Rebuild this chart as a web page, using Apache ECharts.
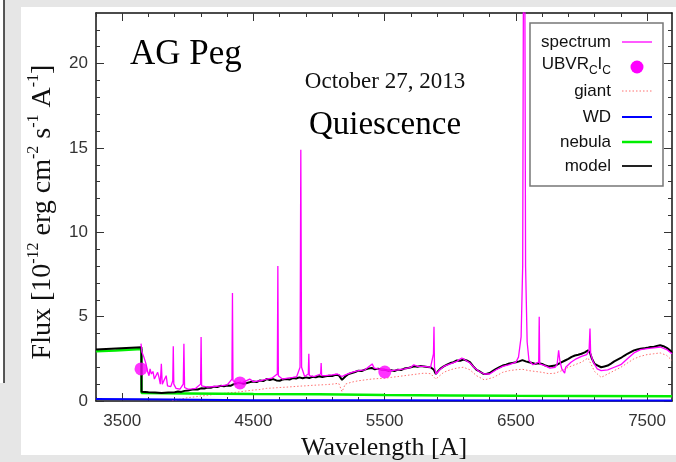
<!DOCTYPE html>
<html><head><meta charset="utf-8">
<script src="https://cdn.jsdelivr.net/npm/echarts@6/dist/echarts.min.js"></script>
<style>html,body{margin:0;padding:0;background:#e6e6e6}#c{width:676px;height:462px}</style>
</head><body><div id="c"></div>
<script>
// ---- data ----
const xMajorTicks = [3500, 4500, 5500, 6500, 7500];
const xMinorTicks = [3300,3700,3900,4100,4300,4700,4900,5100,5300,5700,5900,6100,6300,6700,6900,7100,7300,7700];
const yMajorTicks = [0, 5, 10, 15, 20];
const yMinorTicks = [1,2,3,4,6,7,8,9,11,12,13,14,16,17,18,19,21,22];
const legendNames = ['spectrum', 'UBVRcIc', 'giant', 'WD', 'nebula', 'model'];

const spectrum = [[3643,3.4],[3650,2.9],[3665,2.6],[3681,2.2],[3695,1.7],[3704,1.5],[3712,1.9],[3722,1.6],[3734,1.75],[3745,1.3],[3757,1.2],[3770,1.7],[3780,1.4],[3790,1.0],[3798,2.2],[3805,1.0],[3820,1.1],[3835,1.5],[3845,0.9],[3870,0.85],[3885,1.2],[3889,3.25],[3893,1.0],[3910,0.75],[3940,0.7],[3965,1.0],[3970,3.4],[3975,0.8],[4000,0.7],[4030,0.72],[4060,0.75],[4097,1.0],[4101,3.8],[4105,0.9],[4150,0.82],[4200,0.86],[4250,0.9],[4300,0.95],[4336,1.3],[4340,6.4],[4344,1.2],[4380,1.05],[4420,1.1],[4471,1.3],[4500,1.15],[4550,1.2],[4600,1.3],[4640,1.35],[4682,1.6],[4686,8.0],[4690,1.5],[4720,1.3],[4760,1.35],[4800,1.4],[4830,1.45],[4855,2.0],[4861,14.9],[4867,2.0],[4890,1.45],[4918,1.6],[4922,2.8],[4926,1.5],[4960,1.45],[5012,1.6],[5016,2.25],[5020,1.5],[5050,1.5],[5100,1.55],[5140,1.6],[5175,1.45],[5200,1.55],[5250,1.7],[5300,1.8],[5350,1.85],[5405,2.2],[5420,1.95],[5450,1.9],[5500,1.85],[5550,1.8],[5600,1.85],[5650,1.9],[5700,2.0],[5722,2.15],[5750,2.05],[5800,2.05],[5850,2.0],[5872,2.8],[5876,4.4],[5880,2.0],[5892,1.6],[5920,1.85],[5950,2.05],[6000,2.2],[6050,2.35],[6088,2.55],[6120,2.4],[6150,2.25],[6180,2.0],[6220,1.75],[6260,1.6],[6300,1.6],[6350,1.85],[6400,2.05],[6450,2.15],[6500,2.3],[6520,2.6],[6540,3.8],[6552,8],[6558,26],[6563,45],[6568,26],[6574,8],[6586,3.5],[6600,2.4],[6630,2.15],[6674,2.3],[6678,5.0],[6682,2.2],[6720,2.1],[6760,1.95],[6800,2.0],[6815,2.2],[6826,3.0],[6835,2.4],[6850,1.9],[6872,1.65],[6880,2.0],[6920,2.3],[6960,2.5],[7000,2.65],[7040,2.75],[7058,3.0],[7065,4.3],[7070,2.8],[7090,2.3],[7120,1.9],[7150,1.8],[7200,1.85],[7250,2.0],[7300,2.15],[7350,2.5],[7400,2.85],[7450,3.05],[7500,3.1],[7550,3.15],[7600,3.2],[7650,3.05],[7690,2.8]];

const photometry = [[3643,1.9],[4397,1.07],[5501,1.72]];

const giant = [[3880,0.02],[3950,0.12],[4000,0.2],[4050,0.24],[4100,0.3],[4150,0.33],[4200,0.4],[4250,0.42],[4300,0.48],[4350,0.5],[4400,0.55],[4450,0.6],[4500,0.65],[4550,0.68],[4600,0.75],[4650,0.77],[4700,0.8],[4750,0.82],[4800,0.85],[4850,0.88],[4900,0.9],[4950,0.93],[5000,0.95],[5050,0.97],[5100,1.0],[5150,1.05],[5175,0.55],[5200,1.0],[5250,1.12],[5300,1.2],[5350,1.25],[5400,1.3],[5450,1.33],[5500,1.35],[5550,1.4],[5600,1.45],[5650,1.5],[5700,1.55],[5750,1.6],[5800,1.65],[5850,1.62],[5890,1.3],[5950,1.7],[6000,1.85],[6050,1.95],[6100,2.0],[6150,1.85],[6200,1.5],[6260,1.25],[6330,1.4],[6400,1.7],[6450,1.8],[6500,1.85],[6550,1.88],[6600,1.8],[6650,1.75],[6700,1.7],[6750,1.62],[6800,1.65],[6850,1.8],[6900,2.0],[6950,2.15],[7000,2.3],[7050,2.55],[7100,1.75],[7150,1.4],[7200,1.6],[7250,1.8],[7300,2.0],[7350,2.25],[7400,2.5],[7450,2.65],[7500,2.75],[7550,2.8],[7600,2.85],[7650,2.7],[7690,2.4]];

const wd = [[3300,0.12],[3646,0.1],[3647,0.07],[4500,0.05],[5500,0.04],[6500,0.03],[7690,0.03]];

const nebula = [[3300,2.95],[3450,3.0],[3646,3.08],[3647,0.47],[4000,0.45],[4500,0.42],[5000,0.4],[5500,0.36],[6000,0.33],[6500,0.31],[7000,0.3],[7690,0.28]];

const model = [[3300,3.05],[3646,3.18],[3647,0.55],[3700,0.52],[3750,0.5],[3800,0.48],[3850,0.5],[3900,0.52],[3925,0.56],[3950,0.54],[3975,0.6],[4000,0.62],[4025,0.66],[4050,0.7],[4075,0.68],[4100,0.75],[4125,0.74],[4150,0.8],[4175,0.78],[4200,0.85],[4225,0.83],[4250,0.9],[4275,0.87],[4300,0.92],[4325,0.9],[4350,1.0],[4375,1.05],[4400,1.08],[4425,1.02],[4450,1.07],[4475,1.12],[4500,1.15],[4525,1.12],[4550,1.22],[4575,1.18],[4600,1.3],[4625,1.25],[4650,1.3],[4675,1.22],[4700,1.2],[4725,1.28],[4750,1.3],[4775,1.27],[4800,1.36],[4825,1.33],[4850,1.4],[4875,1.35],[4900,1.4],[4925,1.36],[4950,1.44],[4975,1.4],[5000,1.47],[5025,1.42],[5050,1.46],[5075,1.5],[5100,1.48],[5125,1.55],[5150,1.53],[5175,1.25],[5200,1.45],[5225,1.6],[5250,1.66],[5275,1.72],[5300,1.8],[5325,1.78],[5350,1.86],[5375,1.92],[5400,1.96],[5425,1.88],[5450,1.92],[5475,1.86],[5500,1.85],[5525,1.8],[5550,1.82],[5575,1.78],[5600,1.86],[5625,1.84],[5650,1.92],[5675,1.95],[5700,2.0],[5725,2.06],[5750,2.03],[5775,2.08],[5800,2.05],[5825,2.02],[5850,2.0],[5875,1.85],[5890,1.6],[5910,1.8],[5925,1.92],[5950,2.05],[5975,2.15],[6000,2.25],[6025,2.3],[6050,2.4],[6075,2.38],[6100,2.46],[6125,2.4],[6150,2.3],[6175,2.05],[6200,1.85],[6225,1.75],[6250,1.62],[6275,1.6],[6300,1.66],[6325,1.78],[6350,1.9],[6375,2.0],[6400,2.1],[6425,2.15],[6450,2.22],[6475,2.26],[6500,2.3],[6525,2.35],[6550,2.42],[6575,2.35],[6600,2.3],[6625,2.25],[6650,2.2],[6675,2.24],[6700,2.2],[6725,2.1],[6750,2.05],[6775,2.08],[6800,2.1],[6825,2.2],[6850,2.3],[6875,2.4],[6900,2.5],[6925,2.62],[6950,2.7],[6975,2.74],[7000,2.8],[7025,2.88],[7050,3.0],[7065,2.85],[7080,2.5],[7100,2.2],[7125,2.1],[7150,2.0],[7175,2.05],[7200,2.1],[7225,2.22],[7250,2.35],[7275,2.45],[7300,2.55],[7325,2.68],[7350,2.8],[7375,2.9],[7400,3.0],[7425,3.05],[7450,3.1],[7475,3.12],[7500,3.15],[7525,3.2],[7550,3.2],[7575,3.26],[7600,3.3],[7625,3.25],[7650,3.15],[7675,3.0],[7690,2.85]];

const chart = echarts.init(document.getElementById('c'));
const xmin = 3300, xmax = 7690, ymin = 0, ymax = 23;
const tickFont = {fontFamily: 'Liberation Sans', fontSize: 17, color: '#333', formatter: v => String(v)};
function xAx(pos, ticks, len, labels, line) {
  return {type: 'value', min: xmin, max: xmax, position: pos,
    axisLine: {show: line, onZero: false, lineStyle: {color: '#111', width: 1.5}},
    axisTick: {show: true, inside: true, length: len, customValues: ticks, lineStyle: {color: '#333', width: 1}},
    axisLabel: labels ? Object.assign({customValues: ticks, margin: 12}, tickFont) : {show: false},
    splitLine: {show: false}};
}
function yAx(pos, ticks, len, labels, line) {
  return {type: 'value', min: ymin, max: ymax, position: pos,
    axisLine: {show: line, onZero: false, lineStyle: {color: '#111', width: 1.5}},
    axisTick: {show: true, inside: true, length: len, customValues: ticks, lineStyle: {color: '#333', width: 1}},
    axisLabel: labels ? Object.assign({customValues: ticks, margin: 8}, tickFont) : {show: false},
    splitLine: {show: false}};
}
const xAxes = [xAx('bottom', xMajorTicks, 8, true, true), xAx('top', xMajorTicks, 8, false, true), xAx('bottom', xMinorTicks, 4, false, false), xAx('top', xMinorTicks, 4, false, false)];
xAxes[0].name = 'Wavelength [A]';
xAxes[0].nameLocation = 'middle';
xAxes[0].nameGap = 29;
xAxes[0].nameTextStyle = {fontFamily: 'Liberation Serif', fontSize: 26, color: '#111'};
const yAxes = [yAx('left', yMajorTicks, 8, true, true), yAx('right', yMajorTicks, 8, false, true), yAx('left', yMinorTicks, 4, false, false), yAx('right', yMinorTicks, 4, false, false)];
yAxes[0].name = 'Flux [10{s|-12} erg cm{s|-2} s{s|-1} A{s|-1}]';
yAxes[0].nameLocation = 'middle';
yAxes[0].nameRotate = 90;
yAxes[0].nameGap = 35;
yAxes[0].nameTextStyle = {fontFamily: 'Liberation Serif', fontSize: 28, color: '#111', lineHeight: 32, padding: [0, 10, 0, 0],
  rich: {s: {fontFamily: 'Liberation Serif', fontSize: 16, color: '#111', lineHeight: 15, verticalAlign: 'top'}}};

// legend drawn as graphic (icons on the right, text right-aligned)
const legRows = [42, 67, 91, 117, 142, 166];
const legFont = {fontFamily: 'Liberation Sans', fontSize: 17, fill: '#111'};
const legText = (t, x, y, size, align) => ({type: 'text', z: 21, x: x, y: y,
  style: Object.assign({}, legFont, {text: t, fontSize: size, align: align, verticalAlign: 'middle'})});
const uX = 611 - (47.2 + 8.7 + 4.7 + 8.7);
const legendGraphic = [
  {type: 'rect', z: 20, shape: {x: 530, y: 23, width: 133, height: 163}, style: {fill: '#fff', stroke: '#777', lineWidth: 1.5}},
  legText(legendNames[0], 611, legRows[0], 17, 'right'),
  legText('UBVR', uX, legRows[1] - 3, 17, 'left'),
  legText('C', uX + 47.2, legRows[1] + 4, 12, 'left'),
  legText('I', uX + 55.9, legRows[1] - 3, 17, 'left'),
  legText('C', uX + 60.6, legRows[1] + 4, 12, 'left'),
  legText(legendNames[2], 611, legRows[2], 17, 'right'),
  legText(legendNames[3], 611, legRows[3], 17, 'right'),
  legText(legendNames[4], 611, legRows[4], 17, 'right'),
  legText(legendNames[5], 611, legRows[5], 17, 'right'),
  {type: 'line', z: 21, shape: {x1: 622, y1: legRows[0], x2: 652, y2: legRows[0]}, style: {stroke: '#ff00ff', lineWidth: 1.3}},
  {type: 'circle', z: 21, shape: {cx: 637, cy: legRows[1], r: 6.5}, style: {fill: '#ff00ff'}},
  {type: 'line', z: 21, shape: {x1: 622, y1: legRows[2], x2: 652, y2: legRows[2]}, style: {stroke: '#ff7070', lineWidth: 1, lineDash: [1.5, 2]}},
  {type: 'line', z: 21, shape: {x1: 622, y1: legRows[3], x2: 652, y2: legRows[3]}, style: {stroke: '#0000ff', lineWidth: 2}},
  {type: 'line', z: 21, shape: {x1: 622, y1: legRows[4], x2: 652, y2: legRows[4]}, style: {stroke: '#00ee00', lineWidth: 2.5}},
  {type: 'line', z: 21, shape: {x1: 622, y1: legRows[5], x2: 652, y2: legRows[5]}, style: {stroke: '#222', lineWidth: 2}}
];

chart.setOption({
  animation: false,
  backgroundColor: '#e6e6e6',
  graphic: [
    {type: 'rect', z: -10, shape: {x: 21, y: 7, width: 660, height: 448}, style: {fill: '#fff'}},
    {type: 'rect', z: -10, shape: {x: 0, y: 0, width: 4, height: 383}, style: {fill: '#fff'}},
    {type: 'line', z: -10, shape: {x1: 4, y1: 0, x2: 4, y2: 383}, style: {stroke: '#222', lineWidth: 1.5}},
    {type: 'text', z: 10, left: 130, top: 37, style: {text: 'AG Peg', fontFamily: 'Liberation Serif', fontSize: 35, fill: '#000'}},
    {type: 'text', z: 10, x: 385, y: 82, style: {text: 'October 27, 2013', fontFamily: 'Liberation Serif', fontSize: 23, fill: '#111', align: 'center', verticalAlign: 'middle'}},
    {type: 'text', z: 10, x: 385, y: 125, style: {text: 'Quiescence', fontFamily: 'Liberation Serif', fontSize: 33, fill: '#000', align: 'center', verticalAlign: 'middle'}}
  ].concat(legendGraphic),
  grid: {left: 96, right: 4, top: 13, bottom: 61, containLabel: false, outerBoundsMode: 'none'},
  xAxis: xAxes,
  yAxis: yAxes,
  series: [
    {name: 'giant', type: 'line', data: giant, showSymbol: false, symbol: 'none',
      lineStyle: {color: '#ff7070', width: 1, type: [1.5, 2]}, itemStyle: {color: '#ff7070'}, z: 2},
    {name: 'nebula', type: 'line', data: nebula, showSymbol: false, symbol: 'none',
      lineStyle: {color: '#00ee00', width: 2.5}, itemStyle: {color: '#00ee00'}, z: 3},
    {name: 'WD', type: 'line', data: wd, showSymbol: false, symbol: 'none',
      lineStyle: {color: '#0000ff', width: 2}, itemStyle: {color: '#0000ff'}, z: 3},
    {name: 'model', type: 'line', data: model, showSymbol: false, symbol: 'none',
      lineStyle: {color: '#000', width: 2}, itemStyle: {color: '#000'}, z: 4},
    {name: 'spectrum', type: 'line', data: spectrum, showSymbol: false, symbol: 'none',
      lineStyle: {color: '#ff00ff', width: 1.3}, itemStyle: {color: '#ff00ff'}, z: 5},
    {name: 'UBVRcIc', type: 'scatter', data: photometry, symbol: 'circle', symbolSize: 13,
      itemStyle: {color: '#ff00ff'}, z: 6}
  ]
});
</script></body></html>
